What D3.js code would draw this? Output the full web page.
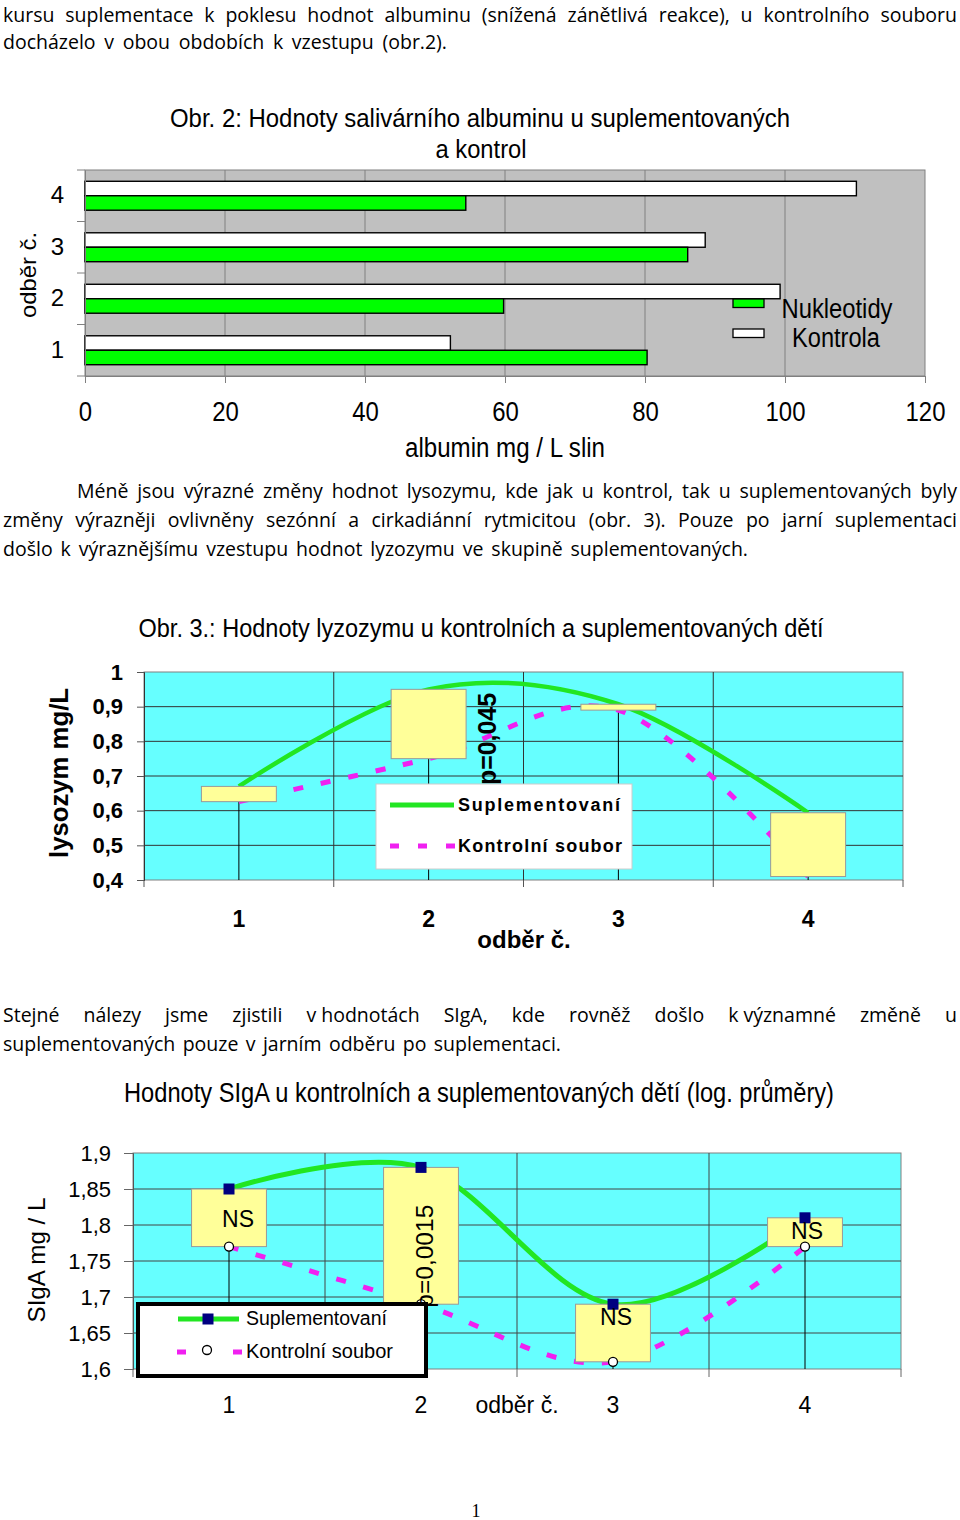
<!DOCTYPE html>
<html><head><meta charset="utf-8">
<script src="https://cdn.jsdelivr.net/npm/d3@7"></script>
<style>body{margin:0;background:#fff}</style>
</head><body>
<svg id="page" width="960" height="1520"></svg>
<script>
// ---------------- DATA ----------------
const albCategories = ["1","2","3","4"];
const albNukleotidy = [80.3, 59.8, 86.1, 54.4];
const albKontrola   = [52.2, 99.3, 88.6, 110.2];
const albTicks = [0,20,40,60,80,100,120];

const lyzCategories = ["1","2","3","4"];
const lyzSuplementovani = [0.67, 0.95, 0.907, 0.594];
const lyzKontrolni      = [0.626, 0.75, 0.89, 0.41];
const lyzTicks = [0.4,0.5,0.6,0.7,0.8,0.9,1];
const lyzTickLabels = ["0,4","0,5","0,6","0,7","0,8","0,9","1"];
const lyzNote = "p=0,045";

const sigaCategories = ["1","2","3","4"];
const sigaSuplementovani = [1.85, 1.88, 1.69, 1.81];
const sigaKontrolni      = [1.77, 1.69, 1.61, 1.77];
const sigaTicks = [1.6,1.65,1.7,1.75,1.8,1.85,1.9];
const sigaTickLabels = ["1,6","1,65","1,7","1,75","1,8","1,85","1,9"];
const sigaNotes = ["NS","p=0,0015","NS","NS"];

const para1 = ["kursu suplementace k poklesu hodnot albuminu (snížená zánětlivá reakce), u kontrolního souboru",
               "docházelo v obou obdobích k vzestupu (obr.2)."];
const para2 = ["Méně jsou výrazné změny hodnot lysozymu, kde jak u kontrol, tak u suplementovaných byly",
               "změny výrazněji ovlivněny sezónní a cirkadiánní rytmicitou (obr. 3). Pouze po jarní suplementaci",
               "došlo k výraznějšímu vzestupu hodnot lyzozymu ve skupině suplementovaných."];
const para3 = ["Stejné nálezy jsme zjistili v\u00a0hodnotách SIgA, kde rovněž došlo k\u00a0významné změně u",
               "suplementovaných pouze v jarním odběru po suplementaci."];

// ---------------- HELPERS ----------------
const svg = d3.select("#page");
const AR = "'Liberation Sans', Arial, sans-serif";
const BODY = "'Open Sans', 'Noto Sans', sans-serif";
const GREEN = "#00ff00", LGREEN = "#22e622", MAG = "#f020f0", CYAN = "#66ffff", YEL = "#ffff99", NAVY = "#000080";

svg.append("rect").attr("width",960).attr("height",1520).attr("fill","#fff");

function txt(g, s, x, y, o = {}) {
  const t = g.append("text").attr("x", x).attr("y", y).text(s)
    .attr("font-family", o.family || AR).attr("font-size", o.size || 22)
    .attr("font-weight", o.weight || "normal").attr("fill", "#000")
    .attr("text-anchor", o.anchor || "start");
  if (o.len) t.attr("textLength", o.len).attr("lengthAdjust", o.adjust || "spacingAndGlyphs");
  if (o.rotate) t.attr("transform", `rotate(${o.rotate},${x},${y})`);
  if (o.ls) t.attr("letter-spacing", o.ls);
  return t;
}
function justifyLine(g, s, x0, x1, y, size) {
  const words = s.split(" ");
  const t = g.append("text").attr("font-family", BODY).attr("font-size", size).attr("y", y).attr("fill","#000");
  const widths = words.map(w => { t.text(w); return t.node().getComputedTextLength(); });
  t.text(null);
  const total = d3.sum(widths);
  const gap = words.length > 1 ? (x1 - x0 - total) / (words.length - 1) : 0;
  let x = x0;
  words.forEach((w, i) => { t.append("tspan").attr("x", x).text(w); x += widths[i] + gap; });
}

// ---------------- BODY TEXT ----------------
const body = svg.append("g");
const bsize = 19.5;
justifyLine(body, para1[0], 3, 957, 22, bsize);
justifyLine(body, para1[1], 3, 447, 49, bsize);
justifyLine(body, para2[0], 77, 957, 498, bsize);
justifyLine(body, para2[1], 3, 957, 527, bsize);
justifyLine(body, para2[2], 3, 748, 556, bsize);
justifyLine(body, para3[0], 3, 957, 1022, bsize);
justifyLine(body, para3[1], 3, 561, 1051, bsize);
txt(svg, "1", 476, 1517, {family:"'Liberation Serif', serif", size:18, anchor:"middle"});

// ---------------- CHART 1: albumin ----------------
{
  const c = {left:85, right:925, top:170, bottom:376};
  const g = svg.append("g");
  const x = d3.scaleLinear().domain([0,120]).range([c.left, c.right]);
  const y = d3.scaleBand().domain(albCategories.slice().reverse()).range([c.top, c.bottom]);
  const sub = d3.scaleBand().domain(["Kontrola","Nukleotidy"]).range([0, y.bandwidth()]).paddingInner(0).paddingOuter(0.78);

  g.append("rect").attr("x",c.left).attr("y",c.top).attr("width",c.right-c.left).attr("height",c.bottom-c.top)
    .attr("fill","#c0c0c0").attr("stroke","#808080");
  g.selectAll("line.vg").data(albTicks.slice(1,-1)).join("line")
    .attr("x1",d=>x(d)).attr("x2",d=>x(d)).attr("y1",c.top).attr("y2",c.bottom)
    .attr("stroke","#808080").attr("stroke-width",1);

  const rows = albCategories.map((cat,i)=>({cat, Kontrola:albKontrola[i], Nukleotidy:albNukleotidy[i]}));
  [["Kontrola","#ffffff"],["Nukleotidy",GREEN]].forEach(([s,col])=>{
    g.selectAll("rect.b"+s).data(rows).join("rect")
      .attr("x",x(0)).attr("y",d=>y(d.cat)+sub(s)).attr("width",d=>x(d[s])-x(0)).attr("height",sub.bandwidth())
      .attr("fill",col).attr("stroke","#000").attr("stroke-width",1.4);
  });

  // x axis
  const ax = g.append("g").attr("transform",`translate(0,${c.bottom})`)
    .call(d3.axisBottom(x).tickValues(albTicks).tickSize(7).tickFormat(d3.format("d")));
  ax.select(".domain").attr("stroke","#808080");
  ax.selectAll(".tick line").attr("stroke","#808080");
  ax.selectAll(".tick text").attr("y",45).attr("dy",null).attr("font-family",AR).attr("font-size",27).attr("fill","#000")
    .attr("textLength",d=>String(d).length*13.3).attr("lengthAdjust","spacingAndGlyphs");

  // y axis
  const edges = y.domain().map(d=>y(d)).concat([c.bottom]);
  g.selectAll("line.yt").data(edges).join("line").attr("x1",c.left-8).attr("x2",c.left).attr("y1",d=>d).attr("y2",d=>d).attr("stroke","#808080");
  const ay = g.append("g").attr("transform",`translate(${c.left},0)`).call(d3.axisLeft(y).tickSize(0).tickPadding(21));
  ay.select(".domain").attr("stroke","#808080");
  ay.selectAll(".tick text").attr("font-family",AR).attr("font-size",24).attr("fill","#000");

  txt(g, "Obr. 2: Hodnoty salivárního albuminu  u suplementovaných", 480, 127, {size:25, anchor:"middle", len:620});
  txt(g, "a kontrol", 481, 158, {size:25, anchor:"middle", len:91});
  txt(g, "albumin mg / L slin", 505, 457, {size:27, anchor:"middle", len:200});
  txt(g, "odběr č.", 36, 275, {size:22, anchor:"middle", len:86, rotate:-90});

  // legend
  const leg = [["Nukleotidy",GREEN,299,318,781.5,111],["Kontrola","#ffffff",329,347,792,88]];
  leg.forEach(([n,col,ry,ty,tx,tl])=>{
    g.append("rect").attr("x",733).attr("y",ry).attr("width",31).attr("height",8.5).attr("fill",col).attr("stroke","#000").attr("stroke-width",1.3);
    txt(g, n, tx, ty, {size:27, len:tl});
  });
}

// ---------------- CHART 2: lysozym ----------------
{
  const c = {left:144, right:903, top:672, bottom:880};
  const g = svg.append("g");
  const x = d3.scaleBand().domain(lyzCategories).range([c.left, c.right]);
  const xc = d => x(d) + x.bandwidth()/2;
  const y = d3.scaleLinear().domain([0.4,1]).range([c.bottom, c.top]);

  g.append("rect").attr("x",c.left).attr("y",c.top).attr("width",c.right-c.left).attr("height",c.bottom-c.top)
    .attr("fill",CYAN).attr("stroke","#808080");
  g.selectAll("line.hg").data(lyzTicks.slice(1,-1)).join("line")
    .attr("x1",c.left).attr("x2",c.right).attr("y1",d=>y(d)).attr("y2",d=>y(d)).attr("stroke","#333").attr("stroke-width",1);
  const edges = lyzCategories.map(d=>x(d)).concat([c.right]);
  g.selectAll("line.vg").data(edges.slice(1,-1)).join("line")
    .attr("x1",d=>d).attr("x2",d=>d).attr("y1",c.top).attr("y2",c.bottom).attr("stroke","#333").attr("stroke-width",1);
  g.selectAll("line.xt").data(edges).join("line").attr("x1",d=>d).attr("x2",d=>d).attr("y1",c.bottom).attr("y2",c.bottom+7).attr("stroke","#555");

  const rows = lyzCategories.map((cat,i)=>({cat, s:lyzSuplementovani[i], k:lyzKontrolni[i]}));
  // drop lines
  g.selectAll("line.drop").data(rows).join("line")
    .attr("x1",d=>xc(d.cat)).attr("x2",d=>xc(d.cat)).attr("y1",d=>y(Math.max(d.s,d.k))).attr("y2",c.bottom).attr("stroke","#000");

  const line = key => d3.line().x(d=>xc(d.cat)).y(d=>y(d[key])).curve(d3.curveCatmullRom.alpha(0));
  g.append("path").datum(rows).attr("d",line("k")).attr("fill","none").attr("stroke",MAG).attr("stroke-width",5).attr("stroke-dasharray","10,18");
  g.append("path").datum(rows).attr("d",line("s")).attr("fill","none").attr("stroke",LGREEN).attr("stroke-width",4.5);

  const bw = x.bandwidth()*0.395;
  g.selectAll("rect.ud").data(rows).join("rect")
    .attr("x",d=>xc(d.cat)-bw/2).attr("width",bw)
    .attr("y",d=>y(Math.max(d.s,d.k))).attr("height",d=>Math.abs(y(d.s)-y(d.k)))
    .attr("fill",YEL).attr("stroke","#999").attr("stroke-width",1);

  // y axis
  const ay = g.append("g").attr("transform",`translate(${c.left},0)`)
    .call(d3.axisLeft(y).tickValues(lyzTicks).tickFormat((d,i)=>lyzTickLabels[i]).tickSize(7).tickPadding(14));
  ay.select(".domain").attr("stroke","#333");
  ay.selectAll(".tick line").attr("stroke","#555");
  ay.selectAll(".tick text").attr("font-family",AR).attr("font-size",22).attr("font-weight","bold").attr("fill","#000");
  // x labels
  g.selectAll("text.xl").data(lyzCategories).join("text").attr("x",d=>xc(d)).attr("y",927)
    .attr("text-anchor","middle").attr("font-family",AR).attr("font-size",23).attr("font-weight","bold").text(d=>d);

  txt(g, "Obr. 3.: Hodnoty lyzozymu u kontrolních a suplementovaných dětí", 481, 637, {size:25, anchor:"middle", len:685});
  txt(g, "odběr č.", 524, 948, {size:24, weight:"bold", anchor:"middle"});
  txt(g, "lysozym mg/L", 68, 773, {size:25, weight:"bold", anchor:"middle", len:170, rotate:-90});
  txt(g, lyzNote, 496, 739, {size:25, weight:"bold", anchor:"middle", len:92, rotate:-90});

  // legend
  g.append("rect").attr("x",376).attr("y",784).attr("width",256).attr("height",85).attr("fill","#fff").attr("stroke","#ccc");
  g.append("line").attr("x1",390).attr("x2",454).attr("y1",805).attr("y2",805).attr("stroke",LGREEN).attr("stroke-width",5);
  g.append("line").attr("x1",390).attr("x2",456).attr("y1",846).attr("y2",846).attr("stroke",MAG).attr("stroke-width",5).attr("stroke-dasharray","9,19");
  txt(g, "Suplementovaní", 458, 811, {size:18, weight:"bold", len:162, adjust:"spacing"});
  txt(g, "Kontrolní soubor", 458, 852, {size:18, weight:"bold", len:164, adjust:"spacing"});
}

// ---------------- CHART 3: SIgA ----------------
{
  const c = {left:133, right:901, top:1153, bottom:1369};
  const g = svg.append("g");
  const x = d3.scaleBand().domain(sigaCategories).range([c.left, c.right]);
  const xc = d => x(d) + x.bandwidth()/2;
  const y = d3.scaleLinear().domain([1.6,1.9]).range([c.bottom, c.top]);

  g.append("rect").attr("x",c.left).attr("y",c.top).attr("width",c.right-c.left).attr("height",c.bottom-c.top)
    .attr("fill",CYAN).attr("stroke","#808080");
  g.selectAll("line.hg").data(sigaTicks.slice(1,-1)).join("line")
    .attr("x1",c.left).attr("x2",c.right).attr("y1",d=>y(d)).attr("y2",d=>y(d)).attr("stroke","#444").attr("stroke-width",1);
  const edges = sigaCategories.map(d=>x(d)).concat([c.right]);
  g.selectAll("line.vg").data(edges.slice(1,-1)).join("line")
    .attr("x1",d=>d).attr("x2",d=>d).attr("y1",c.top).attr("y2",c.bottom).attr("stroke","#444").attr("stroke-width",1);
  g.selectAll("line.xt").data(edges).join("line").attr("x1",d=>d).attr("x2",d=>d).attr("y1",c.bottom).attr("y2",c.bottom+8).attr("stroke","#666");

  const rows = sigaCategories.map((cat,i)=>({cat, s:sigaSuplementovani[i], k:sigaKontrolni[i], note:sigaNotes[i]}));
  g.selectAll("line.drop").data(rows).join("line")
    .attr("x1",d=>xc(d.cat)).attr("x2",d=>xc(d.cat)).attr("y1",d=>y(Math.max(d.s,d.k))).attr("y2",c.bottom).attr("stroke","#000");

  const line = key => d3.line().x(d=>xc(d.cat)).y(d=>y(d[key])).curve(d3.curveCatmullRom.alpha(0));
  g.append("path").datum(rows).attr("d",line("k")).attr("fill","none").attr("stroke",MAG).attr("stroke-width",5).attr("stroke-dasharray","10,18");
  g.append("path").datum(rows).attr("d",line("s")).attr("fill","none").attr("stroke",LGREEN).attr("stroke-width",5);

  const bw = x.bandwidth()*0.39;
  g.selectAll("rect.ud").data(rows).join("rect")
    .attr("x",d=>xc(d.cat)-bw/2).attr("width",bw)
    .attr("y",d=>y(Math.max(d.s,d.k))).attr("height",d=>Math.abs(y(d.s)-y(d.k)))
    .attr("fill",YEL).attr("stroke","#999").attr("stroke-width",1);

  // markers
  g.selectAll("rect.m").data(rows).join("rect").attr("x",d=>xc(d.cat)-5.5).attr("y",d=>y(d.s)-5.5)
    .attr("width",11).attr("height",11).attr("fill",NAVY);
  g.selectAll("circle.m").data(rows).join("circle").attr("cx",d=>xc(d.cat)).attr("cy",d=>y(d.k)).attr("r",4.5)
    .attr("fill","#fff").attr("stroke","#000").attr("stroke-width",1.3);

  // notes
  const noteDx = [9, 12, 3, 2], noteDy = [38, -48, 21, 21];
  rows.forEach((d,i)=>{
    if (d.note.startsWith("p")) {
      txt(g, d.note, xc(d.cat)+noteDx[i], y(d.k)+noteDy[i], {size:24, anchor:"middle", len:103, rotate:-90});
    } else {
      txt(g, d.note, xc(d.cat)+noteDx[i], y(d.s)+noteDy[i], {size:23, anchor:"middle"});
    }
  });

  // axes
  const ay = g.append("g").attr("transform",`translate(${c.left},0)`)
    .call(d3.axisLeft(y).tickValues(sigaTicks).tickFormat((d,i)=>sigaTickLabels[i]).tickSize(9).tickPadding(13));
  ay.select(".domain").attr("stroke","#555");
  ay.selectAll(".tick line").attr("stroke","#666");
  ay.selectAll(".tick text").attr("font-family",AR).attr("font-size",22).attr("fill","#000");
  g.selectAll("text.xl").data(sigaCategories).join("text").attr("x",d=>xc(d)).attr("y",1413)
    .attr("text-anchor","middle").attr("font-family",AR).attr("font-size",23).text(d=>d);

  txt(g, "Hodnoty SIgA u kontrolních a suplementovaných dětí (log. průměry)", 479, 1102, {size:27, anchor:"middle", len:710});
  txt(g, "odběr č.", 517, 1413, {size:23, anchor:"middle"});
  txt(g, "SIgA mg / L", 45, 1260, {size:24, anchor:"middle", len:125, rotate:-90});

  // legend
  g.append("rect").attr("x",138).attr("y",1304).attr("width",288).attr("height",72).attr("fill","#fff").attr("stroke","#000").attr("stroke-width",4);
  g.append("line").attr("x1",178).attr("x2",239).attr("y1",1319).attr("y2",1319).attr("stroke",LGREEN).attr("stroke-width",5);
  g.append("rect").attr("x",202.5).attr("y",1313.5).attr("width",11).attr("height",11).attr("fill",NAVY);
  g.append("line").attr("x1",177).attr("x2",242).attr("y1",1352).attr("y2",1352).attr("stroke",MAG).attr("stroke-width",5).attr("stroke-dasharray","9,47");
  g.append("circle").attr("cx",207).attr("cy",1350).attr("r",4.5).attr("fill","#fff").attr("stroke","#000").attr("stroke-width",1.3);
  txt(g, "Suplementovaní", 246, 1325, {size:20, len:141});
  txt(g, "Kontrolní soubor", 246, 1358, {size:20, len:147});
}
</script>
</body></html>
